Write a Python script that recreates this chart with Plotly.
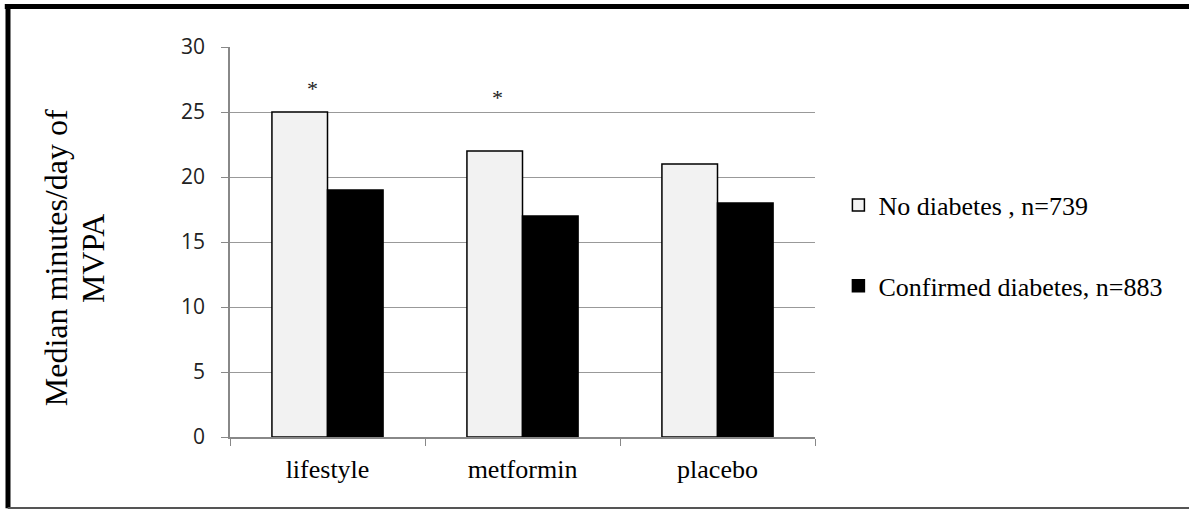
import plotly.graph_objects as go

groups = ['lifestyle', 'metformin', 'placebo']
no_diabetes = [25, 22, 21]
confirmed = [19, 17, 18]
star_groups = ['lifestyle', 'metformin']
star_y = [26.8, 26.1]

serif = 'Liberation Serif'

fig = go.Figure()
fig.add_trace(go.Bar(x=groups, y=no_diabetes, name='No diabetes , n=739',
                     marker=dict(color='#f2f2f2', line=dict(color='#000000', width=1.5)),
                     legendgroup='a'))
fig.add_trace(go.Bar(x=groups, y=confirmed, name='Confirmed diabetes, n=883',
                     marker=dict(color='#000000', line=dict(color='#000000', width=1.5)),
                     legendgroup='b'))

# asterisks sit a little right of the light bar centres
for g, s, dx in zip(star_groups, star_y, [-15, -25]):
    fig.add_annotation(x=g, y=s, text='*', showarrow=False, xshift=dx,
                       font=dict(family=serif, size=22, color='#222'))

# y title as two rotated lines (tight line spacing like the original)
for txt, xp in [('Median minutes/day of', -0.297), ('MVPA', -0.234)]:
    fig.add_annotation(xref='paper', yref='paper', x=xp, y=0.459, text=txt,
                       xanchor='center', yanchor='middle', textangle=-90, showarrow=False,
                       font=dict(family=serif, size=32, color='#000'))

# frame around the picture
fig.add_shape(type='line', xref='paper', yref='paper', x0=-0.385, x1=1.65, y0=1.104, y1=1.104,
              line=dict(color='#000', width=5))
fig.add_shape(type='line', xref='paper', yref='paper', x0=-0.3795, x1=-0.3795, y0=1.11, y1=-0.183,
              line=dict(color='#000', width=5))
fig.add_shape(type='line', xref='paper', yref='paper', x0=-0.38, x1=1.65, y0=-0.182, y1=-0.182,
              line=dict(color='#555', width=2))

fig.update_layout(
    width=1189, height=510,
    margin=dict(l=230, r=374, t=47, b=73),
    plot_bgcolor='white', paper_bgcolor='white',
    barmode='group', bargap=0.43, bargroupgap=0,
    showlegend=True,
    legend=dict(x=1.04, y=0.655, xanchor='left', yanchor='top',
                font=dict(family=serif, size=26, color='#000'),
                traceorder='grouped', tracegroupgap=44, itemwidth=30),
    xaxis=dict(showline=True, linecolor='#888', linewidth=1.5,
               ticks='outside', tickson='boundaries', ticklen=7, tickcolor='#888',
               ticklabelstandoff=8,
               tickfont=dict(family=serif, size=26, color='#000')),
    yaxis=dict(range=[0, 30], dtick=5, showgrid=True, gridcolor='#999', gridwidth=1.2,
               showline=True, linecolor='#888', linewidth=1.5,
               ticks='outside', ticklen=7, tickcolor='#888', ticklabelstandoff=12,
               tickfont=dict(family='Open Sans', size=21, color='#222'),
               zeroline=False),
)

fig.write_html('out.html', post_script="document.body.style.margin='0';",
               config={'displayModeBar': False})
